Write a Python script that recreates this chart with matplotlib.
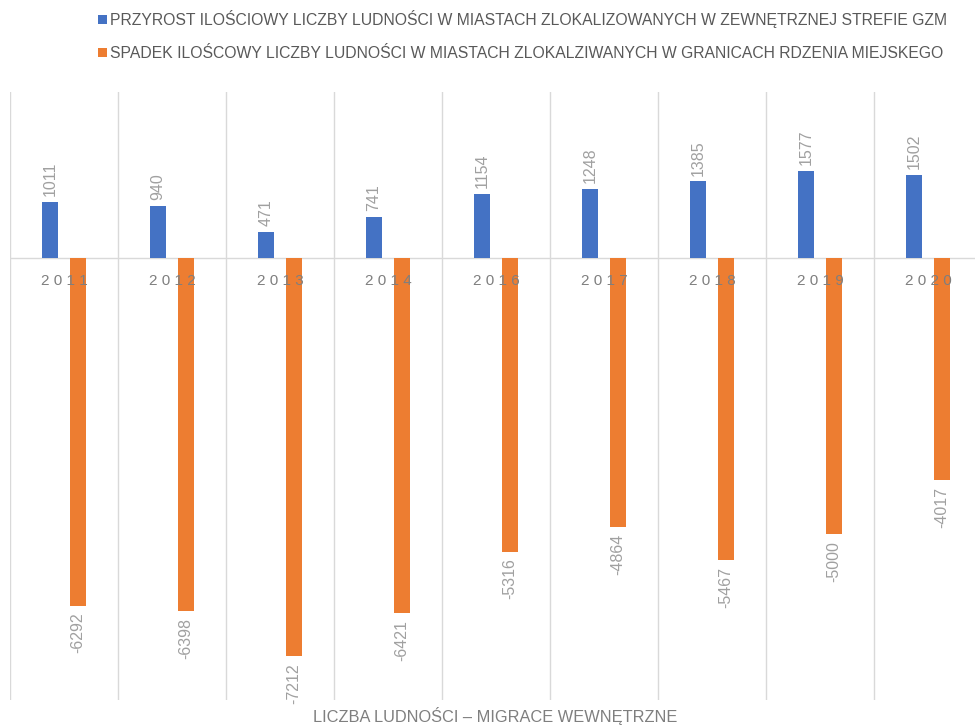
import numpy as np
import matplotlib.pyplot as plt

plt.rcParams['font.family'] = ['Liberation Sans', 'DejaVu Sans']

# data
years = ['2011', '2012', '2013', '2014', '2016', '2017', '2018', '2019', '2020']
growth = [1011, 940, 471, 741, 1154, 1248, 1385, 1577, 1502]
decline = [-6292, -6398, -7212, -6421, -5316, -4864, -5467, -5000, -4017]
labels = ['PRZYROST ILOŚCIOWY LICZBY LUDNOŚCI W MIASTACH ZLOKALIZOWANYCH W ZEWNĘTRZNEJ STREFIE GZM',
          'SPADEK ILOŚCOWY LICZBY LUDNOŚCI W MIASTACH ZLOKALZIWANYCH W GRANICACH RDZENIA MIEJSKEGO']
title = 'LICZBA LUDNOŚCI – MIGRACE WEWNĘTRZNE'

blue = '#4472C4'
orange = '#ED7D31'
grid_c = '#d9d9d9'
lab_c = '#a0a0a0'

W, H = 975, 727
fig = plt.figure(figsize=(W / 100, H / 100), dpi=100)
ax = fig.add_axes([10 / W, (H - 700) / H, 972 / W, 608 / H])

x = np.arange(len(years))
bw = 0.14
off = 0.13
b1 = ax.bar(x - off, growth, bw, color=blue, zorder=3)
b2 = ax.bar(x + off, decline, bw, color=orange, zorder=3)

for xi, v in zip(x - off, growth):
    ax.annotate(str(v), (xi, v), xytext=(0, 4), textcoords='offset points',
                rotation=90, ha='center', va='bottom', fontsize=11.5, color=lab_c)
for xi, v in zip(x + off, decline):
    ax.annotate(str(v), (xi, v), xytext=(0, -5), textcoords='offset points',
                rotation=90, ha='center', va='top', fontsize=11.5, color=lab_c)

for i, y in enumerate(years):
    ax.text(i, -300, ' '.join(y), ha='center', va='top', fontsize=11, color='#7f7f7f', zorder=4)

ax.set_xlim(-0.5, len(years) - 0.5)
ax.set_ylim(-8000, 3000)
for b in np.arange(-0.5, len(years), 1.0):
    ax.axvline(b, color=grid_c, lw=1, zorder=1)
ax.axhline(0, color=grid_c, lw=1, zorder=1)
ax.set_xticks([])
ax.set_yticks([])
for s in ax.spines.values():
    s.set_visible(False)

fig.legend([b1, b2], labels, loc='upper left', bbox_to_anchor=(84 / W, 1 + 4 / H),
           frameon=False, fontsize=11.3, labelcolor='#595959', handlelength=0.55,
           handleheight=0.55, handletextpad=0.2, labelspacing=1.15)

fig.text(495 / W, 1 - 716 / H, title, ha='center', va='center', fontsize=11.8, color='#7f7f7f')

fig.savefig('out.png', dpi=100)
